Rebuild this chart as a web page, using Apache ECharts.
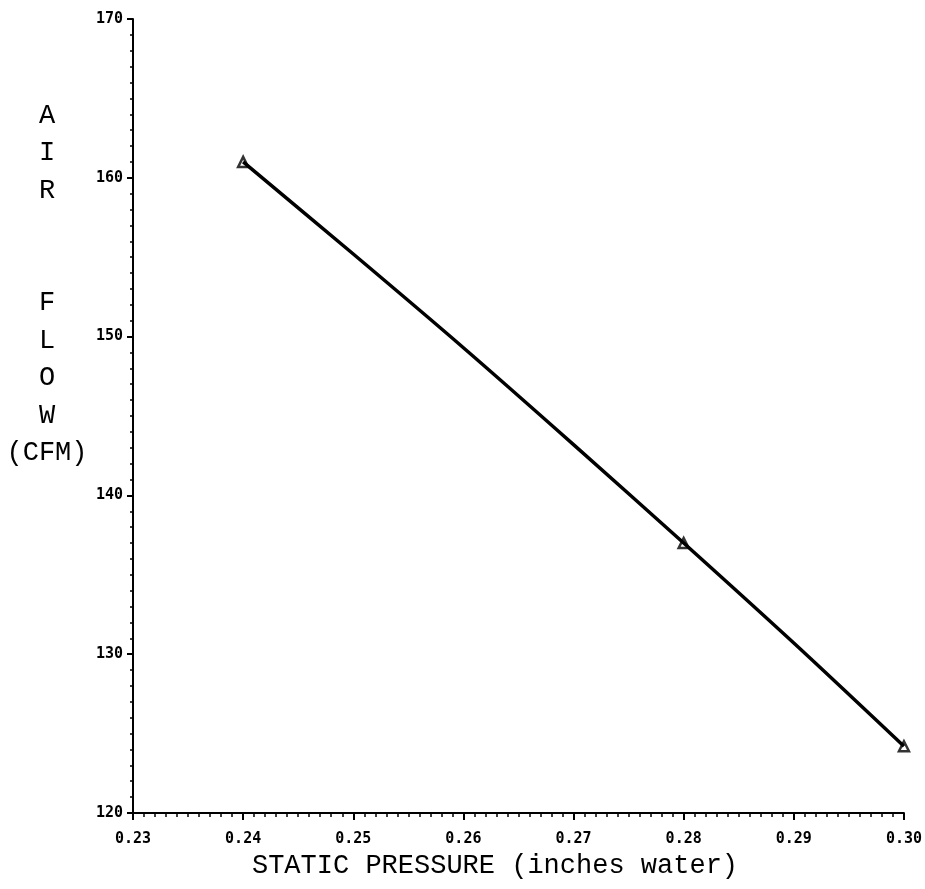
<!DOCTYPE html>
<html>
<head>
<meta charset="utf-8">
<script src="https://cdn.jsdelivr.net/npm/echarts@6/dist/echarts.min.js"></script>
<style>
html,body{margin:0;padding:0;background:#fff;}
#c{width:925px;height:889px;}
</style>
</head>
<body>
<div id="c"></div>
<script>
// Data
const curvePressure = [0.24, 0.25, 0.26, 0.27, 0.28, 0.29, 0.30];
const curveFlow     = [161, 155.2, 149.3, 143.2, 137, 130.7, 124.2];
const markerPressure = [0.24, 0.28, 0.30];
const markerFlow     = [161, 137, 124.2];
const xTitle = 'STATIC PRESSURE (inches water)';
const yTitleLines = ['A', 'I', 'R', '', '', 'F', 'L', 'O', 'W', '(CFM)'];

const chart = echarts.init(document.getElementById('c'), null, {renderer: 'canvas'});
const tickFont = {fontFamily: 'DejaVu Sans Mono', fontWeight: 'bold', fontSize: 15, color: '#000'};
const titleFont = 'Liberation Mono';

chart.setOption({
  animation: false,
  backgroundColor: '#fff',
  grid: {left: 133, right: 20, top: 19, bottom: 76, containLabel: false},
  xAxis: {
    type: 'value', min: 0.23, max: 0.30, interval: 0.01,
    axisLine: {show: true, onZero: false, lineStyle: {color: '#000', width: 2}},
    axisTick: {show: true, length: 7, lineStyle: {color: '#000', width: 2}},
    minorTick: {show: true, splitNumber: 10, length: 4, lineStyle: {color: '#000', width: 1.5}},
    splitLine: {show: false},
    axisLabel: Object.assign({margin: 19, formatter: v => v.toFixed(2)}, tickFont)
  },
  yAxis: {
    type: 'value', min: 120, max: 170, interval: 10,
    axisLine: {show: true, onZero: false, lineStyle: {color: '#000', width: 2}},
    axisTick: {show: true, length: 6, lineStyle: {color: '#000', width: 2}},
    minorTick: {show: true, splitNumber: 10, length: 3, lineStyle: {color: '#000', width: 1.5}},
    splitLine: {show: false},
    axisLabel: Object.assign({margin: 10}, tickFont)
  },
  graphic: [
    {
      type: 'text', x: 47, y: 97,
      style: {text: yTitleLines.join('\n'), font: '27px "' + titleFont + '"', fill: '#000',
              align: 'center', verticalAlign: 'top', lineHeight: 37.5}
    },
    {
      type: 'text', x: 495, y: 866,
      style: {text: xTitle, font: '27px "' + titleFont + '"', fill: '#000',
              align: 'center', verticalAlign: 'middle'}
    }
  ],
  series: [
    {
      type: 'line', smooth: 0.3, showSymbol: false,
      data: curvePressure.map((p, i) => [p, curveFlow[i]]),
      lineStyle: {color: '#000', width: 3.5}
    },
    {
      type: 'scatter', symbol: 'triangle', symbolSize: 10,
      data: markerPressure.map((p, i) => [p, markerFlow[i]]),
      itemStyle: {color: '#fff', borderColor: '#000', borderWidth: 2.5}
    }
  ]
});
</script>
</body>
</html>
